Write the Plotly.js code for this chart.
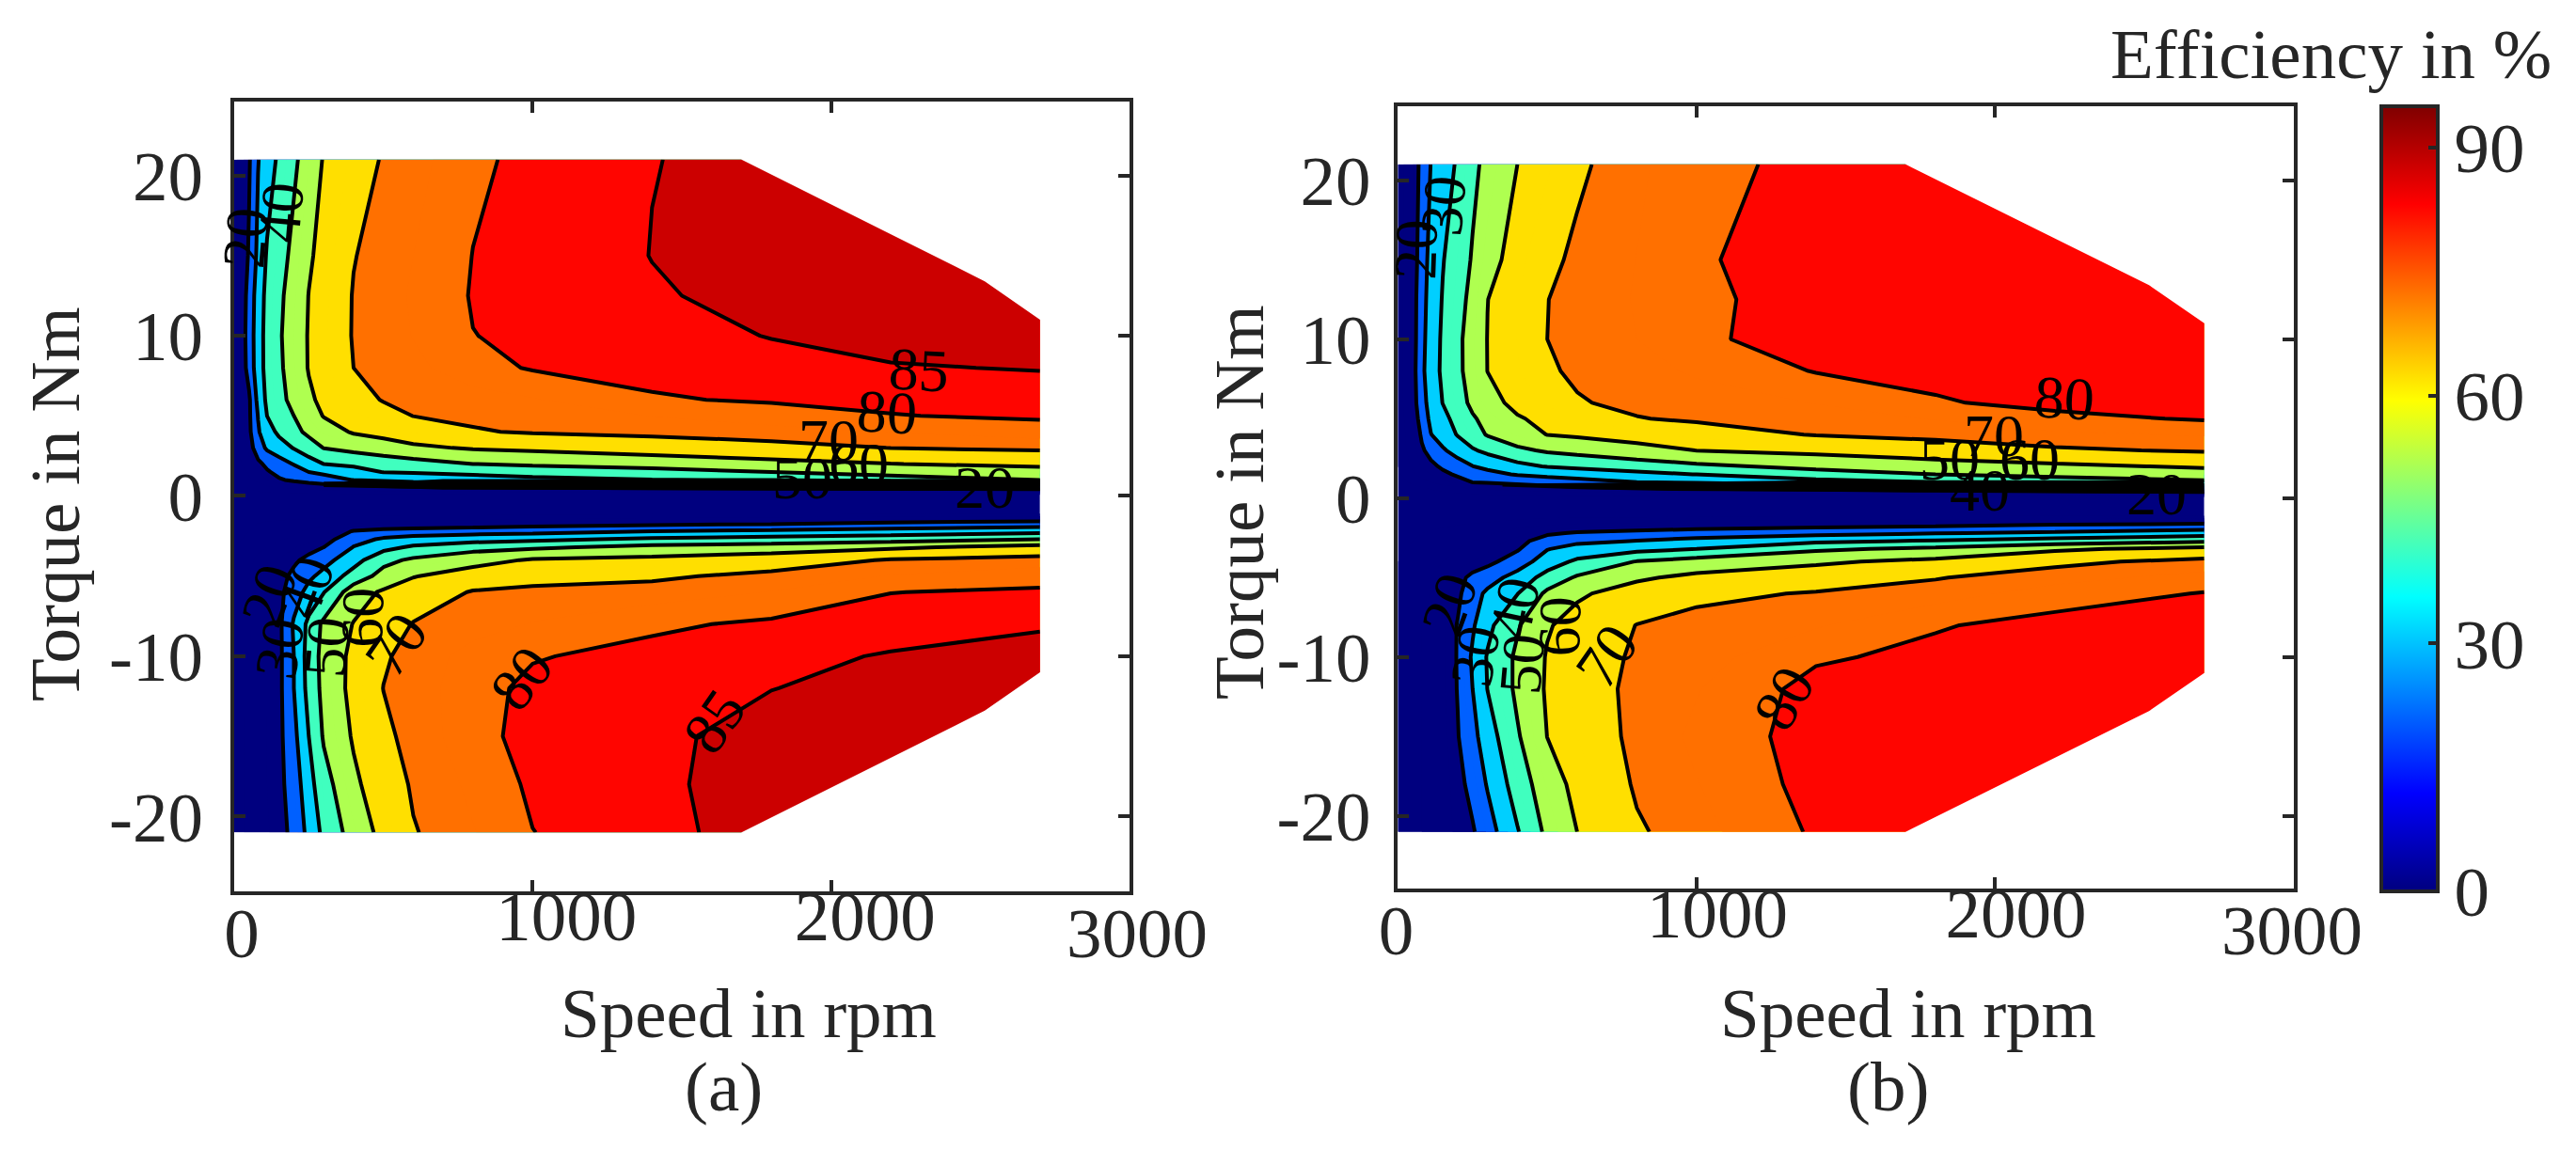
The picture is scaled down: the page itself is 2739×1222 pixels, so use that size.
<!DOCTYPE html>
<html><head><meta charset="utf-8">
<script src="https://cdn.plot.ly/plotly-3.0.1.min.js"></script>
<style>html,body{margin:0;padding:0;background:#fff}#p{width:2739px;height:1222px}</style>
</head><body><div id="p"></div>
<script>
const speed=[0,50,80,110,150,200,250,300,400,500,600,800,1000,1400,1800,2200,2700];
const torque=[-21,-18,-15,-12,-10,-8,-6,-5,-4,-3.2,-2.7,-2.2,-1.7,-1,0,0.4,0.7,1,1.5,2,3,4,5,6,8,10,12.5,15,21];
const effA=[
[8,11,13,14.5,17,22.3,33,42.4,54.2,62.8,69.5,74.7,79.9,83.7,87,87.5,88],
[8,11,13,15,17.5,24.5,36.4,46.3,58.1,65.6,70.9,76.1,81,84.1,87,87.5,88],
[8,11,13,15,17.5,27.4,40,51,61,68.5,72.1,78,82,83.8,87,87.5,88],
[8,11,13,15,17.5,30,43.2,52.8,62.8,70.1,72.5,78,81.3,82.9,84.9,86.5,87.5],
[8,11,13,15,17.5,30,44,53.2,62.4,69.2,72.1,76.9,79.6,81.7,83.6,85.4,87],
[8,11,13,15,17.5,31.3,42.4,52.1,60.4,65.5,70.4,72.9,75.3,79,81,82.7,84.4],
[8,11,13,15,17.5,25,33.4,39.6,55.6,61.3,64.9,70.6,71.4,72.5,75.2,79.9,80.9],
[7,10,12,14,17,22,28,33,44,53.6,59.5,64.6,67.7,68.8,71.9,75.3,77.7],
[6,9,11,13,15.5,18.5,22.4,26.5,36.3,47.1,51.7,56.5,61,62.6,65.6,70.7,72.8],
[5,7,9,10,12,14.5,17,20,30.4,37,41.5,46.4,48.3,53,55,58.5,63.4],
[4,6,7,8,9.5,11,13,16,26.5,31.3,34,36,37.9,41.7,43.6,45.8,50],
[3,5,6,7,8,9,11,13,20.6,23.3,24.5,25.9,26.8,30,31.9,33.9,36.7],
[3,4,5,5.5,6,6.5,7,8,10,11,12,13,15,17,18.5,21.3,23.7],
[2,2,2,2,2,2,2,2,2,2,2,2,2,2,2,2,2],
[2,2,2,2,2,2,2,2,2,2,2,2,2,2,2,2,2],
[3,5,6,7,8,9,10,11,12,13,14,15,16,17,18,18.5,19],
[3,6,8,11,14,16,17.5,19,20.6,22.6,24.5,25.5,26.5,28,28.5,29,30.5],
[4,9,12,15,19,21.5,24,26,30.3,32,33.5,35.5,37,39.7,40.4,44,50],
[5,11,15,19,22.5,26,30,32,36,40.3,41,42.5,45,47,50,55,56.3],
[6,14,18,22,25.8,30.5,35.5,40.1,42.1,44.1,46.1,50,51.4,53.6,57,59.8,62.1],
[8,16,25,31.5,35.5,40.5,45.7,50.2,52.9,55.6,58.3,60.9,62.2,65.2,67.5,70.1,71.5],
[8,18,29,35.6,42,47.4,52,55.7,60.9,63,65.2,69.4,70.7,71.9,73.4,75.2,77.6],
[8,18.5,30.3,40,44.4,50,55.6,60.4,63.9,67.3,70.1,71.3,72.5,75.1,77.4,79.8,80.8],
[8,18.6,32.6,42,47,52.9,58.5,62,67.2,70.4,71.2,72.9,74.6,79.5,80.6,81.2,82.2],
[8,23.3,36,42.8,48.2,54.7,60.5,63.7,70,71.8,73.7,78,80.5,81.5,83.2,84.6,85.3],
[8,24,36,43,48.8,55,60.6,64.2,70.5,72.8,75.2,79.9,81,83.1,85.2,87,88],
[8,23.2,35.2,42.5,48,54.3,60.2,63.9,70.4,73,75.6,80.4,81.7,84.5,86.5,87.5,88.5],
[8,21,32.4,41,46,52.6,58.8,62.8,69.7,72.5,75,80.1,81.8,85.1,87,88,89],
[8,19,29.6,35.2,41.7,48.2,54.8,60.6,66,70.7,73,79,81.4,84.9,86,87,88]];
const effB=[
[7,9,10,11,13,16,19,25.7,39.3,52.2,60,69.1,73.4,80.8,82,83,83.5],
[7,9,10,11,13,17,23.2,30.8,44.7,55.6,62.5,70.9,74.8,82,82.5,83,83.5],
[7,9,10,11,13,19.5,27,35.4,49,60.1,65,71.8,76,82.5,82.6,83,83.5],
[7,9,10,11,14,20.4,30,40.2,51.9,61.1,66,71.9,74.7,82,82.2,83,83.7],
[7,9,10,11,14,20.6,31.4,40.8,51.8,60.7,65.5,71.2,73,79.2,81.5,82.5,83.5],
[7,9,10,11,14,20.5,28.7,37.6,49,59.2,63.3,70.2,72.4,74.5,79.5,82,83],
[6,8,9,10,13,18,26,31.9,39.7,52,58.7,63.9,68.2,70.6,72.8,77.2,80.3],
[6,8,9,10,12,17,22.4,25.8,33.8,43.8,51.2,58.7,62.2,65.5,69.6,73.3,76.7],
[5,7,8,9,10,13,15,17.5,25,35,41.9,50.5,54.3,58.5,62.5,68.2,72.3],
[4,6,7,8,9,10,12,14,19,29.6,33.6,37.1,40,48.4,52,58.5,63],
[3,5,6,7,8,9,10,12,17,24.4,28,30.3,33,38,41,44.4,48.6],
[3,4,5,5.5,6,7,8,9,13,18.5,21,23.5,25,27,29.5,31.5,35],
[2,3,3.5,4,4.5,5,5.5,6,8,10,11,12,15,17,18.5,20.7,22.5],
[2,2,2,2,2,2,2,2,2,2,2,2,2,2,2,2,2],
[2,2,2,2,2,2,2,2,2,2,2,2,2,2,2,2,2],
[2,3,3.5,4,5,6,7,8,9,10,11,12,14,16,18,19,20.5],
[2,4,5,6,8,10,12,13.5,16,18,19.8,21.5,23.5,25.4,27,29.5,35],
[3,6,8,10,13,17,20.1,21,23,25,26.5,30,31,36.5,40,44,48.3],
[4,9,12,15,18.2,21.2,24.2,27.1,30.8,32.4,34,37.2,40.2,46.3,50,52.9,55.4],
[5,11,15.5,18,21.4,25.6,29.8,32.3,37.2,40.6,42.1,45,48,52.5,55.4,58.1,61.2],
[6,13,18.7,23,28.7,34,38.9,42.3,48.1,51.2,53,56.6,60.1,62.4,66,68.9,70.8],
[7,13,21.4,29.7,34.6,40.6,46.1,50.7,55.7,60.2,61.4,64,66.5,70.4,72,74.1,75.5],
[7,14,24.6,32,37.2,43.3,49,52.7,59.2,62.2,64.7,69.7,71,72.8,75.3,78.6,80.5],
[7,16,26.4,33.6,40.2,46.3,52,56.9,62.4,65.9,69.5,71.5,72.6,75.2,79.5,81.5,81.8],
[7,16.5,28,35,41.8,47.9,54.1,60.1,64.6,69.2,71,73.3,75.7,80.3,81.5,82.5,83.3],
[7,16,27.3,34.5,41.5,48,54.2,60.2,65.2,70,71.7,75,79,82.5,82.6,83.3,83.8],
[7,16,26.5,33.8,40.6,46.5,52.8,59.9,64.9,69.9,71.8,75.4,79,82,82.5,83.2,83.6],
[7,15,25.4,33,39.5,45.2,50.8,56.8,63.6,68.4,71.3,75.1,79.5,82,82.5,83,83.5],
[7,15,22.8,30.2,35,41.3,47.9,52.5,60,64.3,68.7,74,78.4,81.5,82.5,83,83]];
// operating limit of the drive (speed, |torque|)
const limitSpeed=[1700,2515,2700];
const limitTorque=[21,13.4,11];
// densely packed low-efficiency contours just above zero torque, traced as one solid band
const denseSpeedA=[300,600,700,2700,2700,700,600,300];
const denseTorqueA=[0.9,0.95,1.05,1.08,0.33,0.4,0.45,0.55];
const denseSpeedB=[350,610,872,1398,2699,2699,1398,872,610,350];
const denseTorqueB=[0.9,0.97,1.0,1.12,1.12,0.28,0.42,0.47,0.57,0.72];
// contour labels: text, speed, torque, angle
const labelsA=[["20",37,16.1,-85],["40",158,17.7,-85],["85",2293,7.88,3],["80",2188,5.2,3],["70",1993,3.47,0],["60",2093,2,0],["50",1903,1.1,0],["20",2514,0.53,0],
["20",116,-6.2,-70],["30",152,-9.5,-80],["40",242,-5.7,-70],["50",310,-9.4,-85],["60",431,-7.6,-88],["70",542,-9.25,-55],["80",963,-11.4,-52],["85",1609,-14.1,-55]];
const labelsB=[["20",59,15.66,-88],["30",153,18.4,-85],["80",2231,6.3,3],["70",1995,3.9,0],["60",2116,2.45,0],["50",1848,2.45,0],["40",1948,0.47,0],["20",2541,0.28,0],
["20",174,-6.7,-70],["30",258,-9.9,-80],["40",390,-6.9,-78],["50",416,-10.4,-85],["60",542,-8.1,-88],["70",699,-9.9,-55],["80",1293,-12.6,-60]];
const bandEdges=[0,20,30,40,50,60,70,80,85,95];
const bandColors=['#00007F','#0060FF','#00CFFF','#40FFBF','#AFFF50','#FFDF00','#FF7000','#FF0500','#CC0000'];
const jet=[[0,'#00007F'],[0.125,'#0000FF'],[0.375,'#00FFFF'],[0.625,'#FFFF00'],[0.875,'#FF0000'],[1,'#7F0000']];

const W=2739,H=1222,FONT='"Liberation Serif","Times New Roman",serif',INK='#262626',LW=4;
const stepScale=[];
bandColors.forEach((c,i)=>{stepScale.push([bandEdges[i]/95,c]);stepScale.push([bandEdges[i+1]/95,c]);});

function panel(z,xa,ya,hasTop,dsx,dsy){
  const base={type:'contour',x:speed,y:torque,z:z,xaxis:xa,yaxis:ya,showscale:false,hoverinfo:'skip'};
  const out=[
    Object.assign({},base,{zmin:0,zmax:95,zauto:false,autocontour:false,colorscale:stepScale,
      contours:{coloring:'fill',start:5,end:90,size:5,showlines:false},line:{width:0,smoothing:0}}),
    Object.assign({},base,{autocontour:false,contours:{coloring:'none',start:20,end:80,size:10},line:{color:'#000',width:LW,smoothing:0}})
  ];
  if(hasTop) out.push(Object.assign({},base,{autocontour:false,contours:{coloring:'none',start:85,end:85.5,size:10},line:{color:'#000',width:LW,smoothing:0}}));
  [1,-1].forEach(s=>{
    out.push({type:'scatter',mode:'lines',xaxis:xa,yaxis:ya,fill:'toself',fillcolor:'#fff',line:{width:0},hoverinfo:'skip',showlegend:false,
      x:[...limitSpeed,limitSpeed[2]+30,limitSpeed[2]+30,limitSpeed[0]],
      y:[...limitTorque.map(t=>t*s),limitTorque[2]*s,(limitTorque[0]+0.5)*s,(limitTorque[0]+0.5)*s]});
  });
  out.push({type:'scatter',mode:'lines',xaxis:xa,yaxis:ya,x:dsx,y:dsy,fill:'toself',fillcolor:'#000',line:{width:0},hoverinfo:'skip',showlegend:false});
  return out;
}
const data=[...panel(effA,'x','y',true,denseSpeedA,denseTorqueA),...panel(effB,'x2','y2',false,denseSpeedB,denseTorqueB),
  {type:'scatter',mode:'lines',x:[null],y:[null],xaxis:'x3',yaxis:'y',hoverinfo:'skip',showlegend:false},
  {type:'scatter',mode:'lines',x:[null],y:[null],xaxis:'x4',yaxis:'y2',hoverinfo:'skip',showlegend:false},
  {type:'heatmap',x:[-9000,-8000],y:[-100,-90],z:[[0,95],[0,95]],xaxis:'x2',yaxis:'y2',zmin:0,zmax:95,colorscale:jet,hoverinfo:'skip',showscale:true,
   colorbar:{x:2532/W,xanchor:'left',xref:'paper',y:1-948/H,yanchor:'bottom',yref:'paper',len:835,lenmode:'pixels',thickness:60,thicknessmode:'pixels',xpad:0,ypad:0,
     outlinewidth:4,outlinecolor:INK,borderwidth:0,tickmode:'array',tickvals:[0,30,60,90],ticktext:['0','30','60','90'],ticks:'inside',ticklen:12,tickwidth:4,tickcolor:INK,
     tickfont:{family:FONT,size:75,color:INK}}}
];
const TICKF={family:FONT,size:75,color:INK};
const axBase={showgrid:false,zeroline:false,showline:true,linewidth:4,linecolor:INK,mirror:'ticks',ticks:'inside',ticklen:12,tickwidth:4,tickcolor:INK,
  tickfont:TICKF,tickmode:'array'};
const xvals=[0,1000,2000,3000];
const overlayX=(over,anchor,shift)=>({overlaying:over,anchor:anchor,range:[0,3000],showgrid:false,zeroline:false,showline:false,ticks:'',tickmode:'array',
  tickvals:[1000,2000],ticktext:['1000','2000'],tickfont:TICKF,ticklabelshift:shift,ticklabelstandoff:-24,fixedrange:true});
const ann=(text,px,py,extra)=>Object.assign({text:text,xref:'paper',yref:'paper',x:px/W,y:1-py/H,showarrow:false,xanchor:'center',yanchor:'middle',
  font:{family:FONT,size:75,color:INK}},extra||{});
const lab=(arr,xr,yr)=>arr.map(l=>({text:l[0],xref:xr,yref:yr,x:l[1],y:l[2],textangle:l[3],showarrow:false,xanchor:'center',yanchor:'middle',
  font:{family:FONT,size:64,color:'#000'}}));
const layout={width:W,height:H,margin:{l:0,r:0,t:0,b:0,autoexpand:false},paper_bgcolor:'#fff',plot_bgcolor:'#fff',showlegend:false,
  xaxis:Object.assign({},axBase,{domain:[249/W,1201/W],range:[0,3000],anchor:'y',tickvals:xvals,ticktext:['0','','','3000'],ticklabelshift:8,ticklabelstandoff:-24}),
  yaxis:Object.assign({},axBase,{domain:[1-948/H,1-108/H],range:[-24.68,24.62],anchor:'x',tickvals:[-20,-10,0,10,20],ticktext:['-20','-10','0','10','20'],ticklabelstandoff:14}),
  xaxis2:Object.assign({},axBase,{domain:[1486.4/W,2439/W],range:[0,3000],anchor:'y2',tickvals:xvals,ticktext:['0','','','3000'],ticklabelshift:-2,ticklabelstandoff:-24}),
  yaxis2:Object.assign({},axBase,{domain:[1-945/H,1-113/H],range:[-24.57,24.66],anchor:'x2',tickvals:[-20,-10,0,10,20],ticktext:['-20','-10','0','10','20'],ticklabelstandoff:10}),
  xaxis3:overlayX('x','y',36),
  xaxis4:overlayX('x2','y2',22),
  annotations:[
    ann('Speed in rpm',796,1077),ann('Speed in rpm',2029,1077),ann('(a)',769,1155),ann('(b)',2007,1155),
    ann('Torque in Nm',58,536,{textangle:-90}),ann('Torque in Nm',1317,534,{textangle:-90}),
    ann('Efficiency in %',2478,57),
    ...lab(labelsA,'x','y'),...lab(labelsB,'x2','y2')
  ]};
Plotly.newPlot('p',data,layout,{staticPlot:true,displayModeBar:false});
</script></body></html>
